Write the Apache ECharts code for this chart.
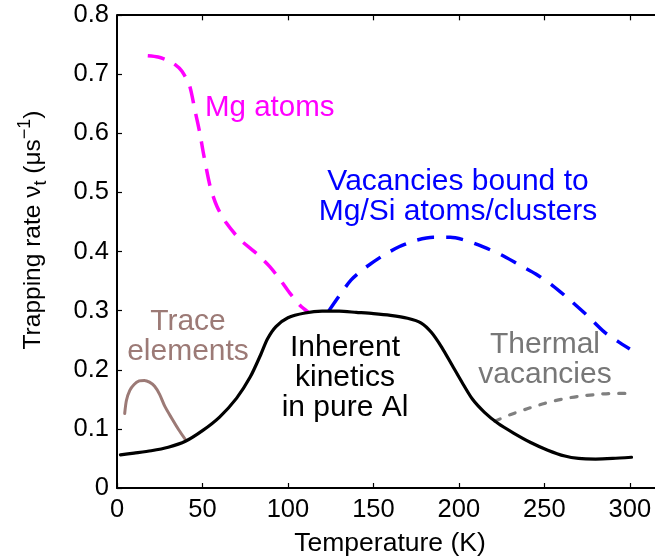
<!DOCTYPE html>
<html>
<head>
<meta charset="utf-8">
<script src="https://cdn.jsdelivr.net/npm/echarts@6/dist/echarts.min.js"></script>
<style>
  html, body { margin: 0; padding: 0; background: #fff; }
  #chart { width: 655px; height: 560px; }
</style>
</head>
<body>
<div id="chart"></div>
<script>
// ---- data (temperature K, trapping rate 1/us) ----
var inherentT = [2, 10, 20, 30, 40, 50, 60, 70, 78, 84, 88, 93, 100, 110, 120, 130, 140, 150, 160, 170, 178, 184, 190, 196, 202, 208, 215, 223, 232, 242, 252, 262, 270, 280, 290, 301];
var inherentV = [0.056, 0.059, 0.063, 0.069, 0.079, 0.097, 0.120, 0.152, 0.188, 0.225, 0.252, 0.273, 0.288, 0.296, 0.299, 0.299, 0.297, 0.295, 0.292, 0.287, 0.279, 0.263, 0.238, 0.208, 0.178, 0.150, 0.128, 0.109, 0.093, 0.077, 0.064, 0.054, 0.050, 0.049, 0.050, 0.052];

var mgT = [18, 24, 29, 34, 38, 42.5, 45.5, 48.5, 50.5, 54.5, 58.5, 64, 72, 81.5, 89.5, 95.5, 101, 107, 112];
var mgV = [0.731, 0.729, 0.724, 0.716, 0.705, 0.680, 0.640, 0.600, 0.567, 0.510, 0.476, 0.448, 0.420, 0.397, 0.374, 0.352, 0.330, 0.309, 0.297];

var vacT = [124, 130, 137, 145, 155, 165, 175, 185, 195, 205, 215, 225, 235, 245, 255, 265, 275, 285, 293, 300];
var vacV = [0.300, 0.325, 0.352, 0.372, 0.392, 0.408, 0.419, 0.424, 0.424, 0.418, 0.407, 0.394, 0.378, 0.362, 0.342, 0.318, 0.292, 0.264, 0.248, 0.235];

var traceT = [4.5, 5.5, 7.5, 10, 13, 16, 19, 22, 25, 28, 32, 36, 40];
var traceV = [0.126, 0.148, 0.165, 0.175, 0.181, 0.182, 0.179, 0.172, 0.158, 0.138, 0.118, 0.099, 0.082];

var thermT = [221, 230, 240, 250, 260, 270, 280, 290, 301];
var thermV = [0.113, 0.124, 0.134, 0.143, 0.150, 0.155, 0.158, 0.160, 0.160];

var xTicks = [0, 50, 100, 150, 200, 250, 300];
var yTicks = [0, 0.1, 0.2, 0.3, 0.4, 0.5, 0.6, 0.7, 0.8];

var X_MAX = 316.5;
var Y_MAX = 0.8;
var TOP_TICK_LEN = 0.009; // in y units (about 5 px)

function pairs(xs, ys) { return xs.map(function (x, i) { return [x, ys[i]]; }); }

var FONT = '"Liberation Sans", Arial, sans-serif';

var chart = echarts.init(document.getElementById('chart'), null, { renderer: 'canvas' });

function axisCommon() {
  return {
    axisLine: { show: true, onZero: false, lineStyle: { color: '#000', width: 2 } },
    axisTick: { show: true, inside: true, length: 5, lineStyle: { color: '#000', width: 1.2 } },
    splitLine: { show: false }
  };
}

function lineSeries(name, xs, ys, style, z) {
  return {
    name: name, type: 'line', data: pairs(xs, ys),
    smooth: 0.25, showSymbol: false, symbol: 'none',
    lineStyle: style, z: z
  };
}

// top frame line plus inward ticks, expressed in data coordinates
var topFrame = [{ yAxis: Y_MAX, lineStyle: { width: 2 } }];
xTicks.forEach(function (t) {
  if (t === 0) return;
  topFrame.push([
    { coord: [t, Y_MAX], lineStyle: { width: 1.2 } },
    { coord: [t, Y_MAX - TOP_TICK_LEN] }
  ]);
});

chart.setOption({
  animation: false,
  backgroundColor: '#fff',
  grid: { left: 117, right: -3, top: 15, bottom: 72, containLabel: false, outerBoundsMode: 'none' },
  xAxis: [
    Object.assign({
      type: 'value', min: 0, max: X_MAX, interval: 50, position: 'bottom',
      axisLabel: {
        fontFamily: FONT, fontSize: 25.5, color: '#000', margin: 9,
        formatter: function (v) { return xTicks.indexOf(v) >= 0 ? String(v) : ''; }
      }
    }, axisCommon())
  ],
  yAxis: [
    Object.assign({
      type: 'value', min: 0, max: Y_MAX, interval: 0.1,
      axisLabel: {
        fontFamily: FONT, fontSize: 25.5, color: '#000', margin: 8,
        formatter: function (v) {
          var r = Math.round(v * 10) / 10;
          return yTicks.indexOf(r) >= 0 ? (r === 0 ? '0' : r.toFixed(1)) : '';
        }
      }
    }, axisCommon())
  ],
  series: [
    Object.assign(
      lineSeries('Inherent kinetics', inherentT, inherentV, { color: '#000', width: 3.2, cap: 'round', join: 'round' }, 5),
      {
        markLine: {
          silent: true, symbol: 'none', animation: false,
          label: { show: false },
          emphasis: { disabled: true },
          lineStyle: { color: '#000', width: 2, type: 'solid' },
          data: topFrame
        }
      }
    ),
    lineSeries('Mg atoms', mgT, mgV, { color: '#FF00FF', width: 3.5, type: [17, 11], cap: 'butt' }, 4),
    lineSeries('Vacancies bound', vacT, vacV, { color: '#0000FF', width: 3.5, type: [17, 12], cap: 'butt' }, 4),
    lineSeries('Trace elements', traceT, traceV, { color: '#9C7A76', width: 3, cap: 'round', join: 'round' }, 4),
    lineSeries('Thermal vacancies', thermT, thermV, { color: '#808080', width: 3.2, type: [6, 10], cap: 'round' }, 3)
  ],
  graphic: [
    {
      type: 'text', x: 33, y: 230, rotation: Math.PI / 2,
      style: {
        text: '{a|Trapping rate ν}{sub|t}{a| (μs}{sup|−1}{a|)}',
        align: 'center', verticalAlign: 'middle',
        rich: {
          a: { fontFamily: FONT, fontSize: 24.5, lineHeight: 34, fill: '#000', verticalAlign: 'middle' },
          sub: { fontFamily: FONT, fontSize: 18, lineHeight: 18, fill: '#000', verticalAlign: 'bottom' },
          sup: { fontFamily: FONT, fontSize: 18, lineHeight: 18, fill: '#000', verticalAlign: 'top' }
        }
      }
    },
    {
      type: 'text', x: 390, y: 544,
      style: { text: 'Temperature (K)', fontFamily: FONT, fontSize: 26.5, fill: '#000', align: 'center', verticalAlign: 'middle' }
    },
    {
      type: 'text', x: 205, y: 108,
      style: { text: 'Mg atoms', fontFamily: FONT, fontSize: 29.5, fill: '#FF00FF', align: 'left', verticalAlign: 'middle' }
    },
    {
      type: 'text', x: 458, y: 197,
      style: { text: 'Vacancies bound to\nMg/Si atoms/clusters', fontFamily: FONT, fontSize: 30, lineHeight: 30, fill: '#0000FF', align: 'center', verticalAlign: 'middle' }
    },
    {
      type: 'text', x: 188, y: 337,
      style: { text: 'Trace\nelements', fontFamily: FONT, fontSize: 30, lineHeight: 30, fill: '#9C7A76', align: 'center', verticalAlign: 'middle' }
    },
    {
      type: 'text', x: 345, y: 378,
      style: { text: 'Inherent\nkinetics\nin pure Al', fontFamily: FONT, fontSize: 30, lineHeight: 30, fill: '#000', align: 'center', verticalAlign: 'middle' }
    },
    {
      type: 'text', x: 545, y: 360,
      style: { text: 'Thermal\nvacancies', fontFamily: FONT, fontSize: 30, lineHeight: 30, fill: '#777777', align: 'center', verticalAlign: 'middle' }
    }
  ]
});
</script>
</body>
</html>
